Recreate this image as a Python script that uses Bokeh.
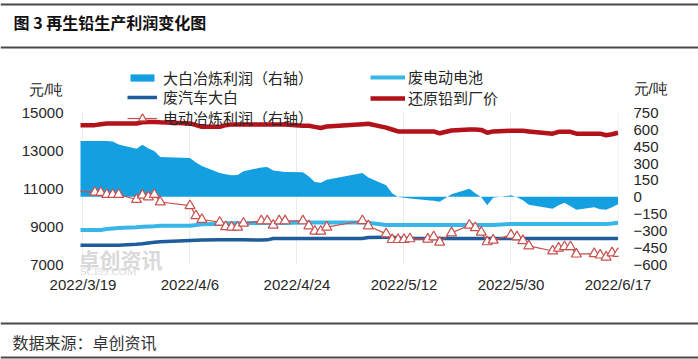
import pandas as pd
from bokeh.plotting import figure
from bokeh.models import (Range1d, LinearAxis, FixedTicker, Legend, LegendItem, Label, Span,
                          ColumnDataSource, CDSView, IndexFilter)
from bokeh.layouts import column
from bokeh.embed import file_html
from bokeh.resources import INLINE

# ---------------- data ----------------
dates = ["2022-03-18", "2022-03-21", "2022-03-22", "2022-03-23", "2022-03-24", "2022-03-25",
         "2022-03-28", "2022-03-29", "2022-03-30", "2022-03-31", "2022-04-01",
         "2022-04-06", "2022-04-07", "2022-04-08",
         "2022-04-11", "2022-04-12", "2022-04-13", "2022-04-14", "2022-04-15",
         "2022-04-18", "2022-04-19", "2022-04-20", "2022-04-21", "2022-04-22",
         "2022-04-25", "2022-04-26", "2022-04-27", "2022-04-28", "2022-04-29",
         "2022-05-05", "2022-05-06",
         "2022-05-09", "2022-05-10", "2022-05-11", "2022-05-12", "2022-05-13",
         "2022-05-16", "2022-05-17", "2022-05-18", "2022-05-20",
         "2022-05-23", "2022-05-24", "2022-05-25", "2022-05-26", "2022-05-27",
         "2022-05-30", "2022-05-31", "2022-06-01", "2022-06-02",
         "2022-06-06", "2022-06-07", "2022-06-08", "2022-06-09", "2022-06-10",
         "2022-06-13", "2022-06-14", "2022-06-15", "2022-06-16", "2022-06-17"]

# 大白冶炼利润（右轴）
dabai_profit = [495, 495, 495, 495, 492, 465,
                427, 463, 430, 406, 353,
                345, 305, 274,
                212, 199, 190, 194, 226,
                261, 264, 234, 226, 221,
                217, 181, 131, 125, 150,
                212, 172,
                101, 30, -3, -10, -17,
                -32, -36, -45, 21,
                70, 30, -5, -76, -10,
                12, -5, -32, -72,
                -107, -76, -54, -85, -116,
                -94, -112, -116, -94, -67]

# 电动冶炼利润（右轴）
ev_profit = [48, 40, 37, 19, 19, 19,
             -25, 13, -2, 19, -47,
             -80, -169, -203,
             -227, -267, -271, -271, -236,
             -215, -215, -254, -215, -215,
             -215, -260, -307, -307, -271,
             -214, -260,
             -331, -382, -382, -382, -375,
             -378, -358, -405, -322,
             -254, -276, -316, -402, -387,
             -342, -358, -391, -438,
             -483, -458, -446, -446, -511,
             -507, -520, -538, -500, -505]

# 还原铅到厂价
lead_price = [14330, 14330, 14380, 14420, 14420, 14420,
              14420, 14480, 14500, 14500, 14480,
              14420, 14330, 14240,
              14240, 14330, 14370, 14370, 14370,
              14370, 14370, 14370, 14370, 14370,
              14300, 14300, 14240, 14180, 14260,
              14380, 14400,
              14200, 14100, 14000, 14000, 14000,
              14000, 14000, 13900, 14050,
              14100, 14100, 14080, 13930, 14000,
              14030, 14030, 14030, 14000,
              13880, 13980, 13980, 13980, 13880,
              13880, 13880, 13800, 13850, 13930]

# 废电动电池
ev_battery = [8800, 8800, 8800, 8850, 8880, 8900,
              8950, 8970, 8990, 9000, 9020,
              9030, 9060, 9100,
              9110, 9150, 9150, 9150, 9150,
              9170, 9170, 9170, 9170, 9170,
              9200, 9200, 9200, 9200, 9200,
              9200, 9180,
              9060, 9060, 9060, 9060, 9060,
              9060, 9060, 9060, 9060,
              9060, 9060, 9060, 9060, 9060,
              9120, 9120, 9120, 9120,
              9120, 9120, 9120, 9120, 9120,
              9120, 9120, 9120, 9140, 9180]

# 废汽车大白
car_battery = [8000, 8000, 8000, 8000, 8000, 8000,
               8050, 8080, 8120, 8150, 8180,
               8250, 8260, 8270,
               8290, 8290, 8290, 8290, 8290,
               8270, 8280, 8350, 8350, 8350,
               8350, 8350, 8350, 8350, 8350,
               8350, 8400,
               8420, 8420, 8380, 8350, 8350,
               8350, 8350, 8350, 8350,
               8350, 8350, 8350, 8350, 8350,
               8350, 8350, 8350, 8350,
               8350, 8350, 8350, 8350, 8350,
               8350, 8350, 8350, 8350, 8350]

tick_dates = ["2022-03-19", "2022-04-06", "2022-04-24", "2022-05-12", "2022-05-30", "2022-06-17"]
tick_labels = ["2022/3/19", "2022/4/6", "2022/4/24", "2022/5/12", "2022/5/30", "2022/6/17"]
left_ticks = [7000, 9000, 11000, 13000, 15000]
right_ticks = [-600, -450, -300, -150, 0, 150, 300, 450, 600, 750]

title_text = "图 3  再生铅生产利润变化图"
source_text = "数据来源：卓创资讯"
unit_text = "元/吨"

# ---------------- styles ----------------
W = 698
CJK = "Noto Sans CJK SC"
NUM = "Liberation Sans"
TXT = "#262626"
RULE = "#4a4a4a"
C_AREA = "#14A0E0"
C_BAT = "#38B6E8"
C_CAR = "#1F5C9C"
C_LEAD = "#B3121A"
C_EV = "#C8504D"


def no_align(fig):
    try:
        fig.frame_align = False
    except Exception:
        pass


# ---------------- header ----------------
HH = 52
hdr = figure(width=W, height=HH, x_range=Range1d(0, W), y_range=Range1d(0, HH),
             toolbar_location=None, output_backend="svg", min_border=0,
             x_axis_location=None, y_axis_location=None, outline_line_color=None)
no_align(hdr)
hdr.grid.visible = False
hdr.add_layout(Span(location=HH - 4, dimension="width", line_color=RULE, line_width=2))
hdr.add_layout(Span(location=HH - 47, dimension="width", line_color=RULE, line_width=2))
hdr.add_layout(Label(x=13, y=HH - 21, text=title_text, text_font=CJK, text_font_size="16px",
                     text_font_style="bold", text_baseline="middle", text_color="#111111"))

# ---------------- main chart ----------------
x = pd.to_datetime(dates)
src = ColumnDataSource(dict(x=x, dabai=dabai_profit, ev=ev_profit, lead=lead_price,
                            bat=ev_battery, car=car_battery))

x_start = pd.Timestamp(tick_dates[0]) - pd.Timedelta(hours=10)
x_end = pd.Timestamp(tick_dates[-1]) + pd.Timedelta(hours=2)

MH = 264
y_lo, y_hi = 6400, 17529
r_lo = -600 + (y_lo - 7000) * 0.16875
r_hi = -600 + (y_hi - 7000) * 0.16875

p = figure(width=W, height=MH, x_axis_type="datetime",
           x_range=Range1d(x_start, x_end), y_range=Range1d(y_lo, y_hi),
           toolbar_location=None, output_backend="svg",
           min_border_left=80, min_border_right=80, min_border_top=12, min_border_bottom=41,
           outline_line_color=None)
no_align(p)
p.extra_y_ranges = {"right": Range1d(r_lo, r_hi)}

r_area = p.varea(x="x", y1=0, y2="dabai", source=src, fill_color=C_AREA, y_range_name="right")
r_car = p.line("x", "car", source=src, line_color=C_CAR, line_width=3.5)
r_bat = p.line("x", "bat", source=src, line_color=C_BAT, line_width=4)
r_lead = p.line("x", "lead", source=src, line_color=C_LEAD, line_width=4.5)
r_ev_line = p.line("x", "ev", source=src, line_color=C_EV, line_width=1.2, y_range_name="right")
pts_view = CDSView(filter=IndexFilter(indices=list(range(1, len(dates)))))
r_ev_pts = p.scatter("x", "ev", source=src, view=pts_view, marker="triangle", size=10,
                     fill_color="white", line_color=C_EV, line_width=1.2, y_range_name="right")

# axes (the unit "元/吨" sits as an extra labelled tick at the top of each axis)
left_unit_at = 16210
right_unit_at = 960
xt = [int(pd.Timestamp(d).value // 10**6) for d in tick_dates]
xa = p.xaxis[0]
xa.ticker = FixedTicker(ticks=xt)
xa.major_label_overrides = {t: l for t, l in zip(xt, tick_labels)}
ya = p.yaxis[0]
ya.ticker = FixedTicker(ticks=left_ticks + [left_unit_at])
ya.major_label_overrides = {left_unit_at: unit_text}
ra = LinearAxis(y_range_name="right", ticker=FixedTicker(ticks=right_ticks + [right_unit_at]))
ra.major_label_overrides = {right_unit_at: unit_text}
p.add_layout(ra, "right")

for ax, standoff in ((xa, 0), (ya, 17), (ra, 15)):
    ax.axis_line_color = None
    ax.major_tick_line_color = None
    ax.minor_tick_line_color = None
    ax.major_tick_in = 0
    ax.major_tick_out = 0
    ax.major_label_standoff = standoff
    ax.major_label_text_font = NUM
    ax.major_label_text_font_size = "15px"
    ax.major_label_text_color = TXT

p.ygrid.grid_line_color = None
p.xgrid.grid_line_color = "#ececec"
p.xgrid.grid_line_width = 1
try:
    p.xgrid.cross_bounds = (7000, 15000)
except Exception:
    pass

# watermark
p.add_layout(Label(x=-2, y=17, x_units="screen", y_units="screen", text="卓创资讯",
                   text_font=CJK, text_font_size="21px", text_font_style="bold",
                   text_baseline="middle", text_color="#d9d9d9"))
p.add_layout(Label(x=0, y=5, x_units="screen", y_units="screen", text="SCI99.COM",
                   text_font="Liberation Serif", text_font_size="11px", text_baseline="middle",
                   text_color="#d9d9d9"))


def make_legend(items, loc, gw=30, gh=9, standoff=6):
    return Legend(items=items, location=loc, padding=0, margin=0, spacing=0,
                  glyph_width=gw, glyph_height=gh, label_height=20, label_standoff=standoff,
                  border_line_color=None, background_fill_alpha=0,
                  label_text_font=CJK, label_text_font_size="15px", label_text_color=TXT)


p.add_layout(make_legend([LegendItem(label="大白冶炼利润（右轴）", renderers=[r_area])], (47, 187)))
p.add_layout(make_legend([LegendItem(label="废汽车大白", renderers=[r_car]),
                          LegendItem(label="电动冶炼利润（右轴）", renderers=[r_ev_line, r_ev_pts])],
                         (47, 147), gh=20))
p.add_layout(make_legend([LegendItem(label="废电动电池", renderers=[r_bat]),
                          LegendItem(label="还原铅到厂价", renderers=[r_lead])],
                         (290, 167), gw=35, gh=20, standoff=3))

# ---------------- footer ----------------
FH = 359 - HH - MH
ftr = figure(width=W, height=FH, x_range=Range1d(0, W), y_range=Range1d(0, FH),
             toolbar_location=None, output_backend="svg", min_border=0,
             x_axis_location=None, y_axis_location=None, outline_line_color=None)
no_align(ftr)
ftr.grid.visible = False
ftr.add_layout(Span(location=FH - 7, dimension="width", line_color=RULE, line_width=2))
ftr.add_layout(Span(location=2, dimension="width", line_color=RULE, line_width=2))
ftr.add_layout(Label(x=12, y=FH - 25, text=source_text, text_font=CJK, text_font_size="16px",
                     text_baseline="middle", text_color="#333333"))

layout = column(hdr, p, ftr, spacing=0)
open("out.html", "w").write(file_html(layout, INLINE))
